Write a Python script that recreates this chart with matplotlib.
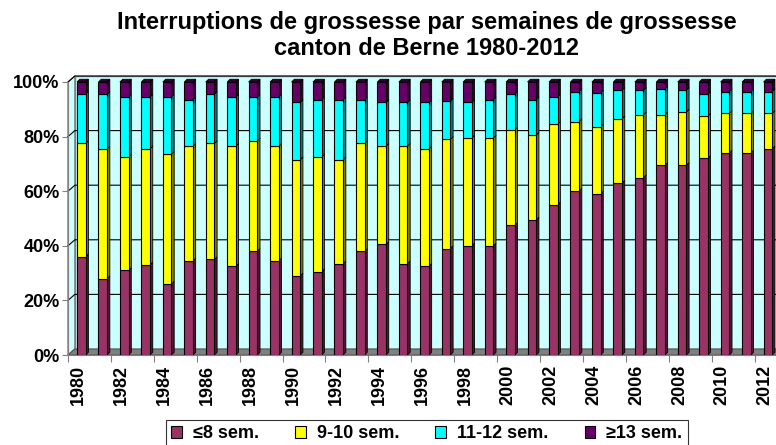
import numpy as np
import matplotlib
matplotlib.use("Agg")
import matplotlib.pyplot as plt
from matplotlib.patches import Polygon, Patch

plt.rcParams['font.family'] = ['Liberation Sans', 'DejaVu Sans']
plt.rcParams['font.weight'] = 'bold'

# Data (percent of interruptions per year)
years = list(range(1980, 2013))
le8 = [36, 28, 31, 33, 26, 34.5, 35, 32.5, 38, 34.5, 29, 30.5, 33.5, 38, 40.5, 33.5,
       32.5, 39, 40, 40, 47.5, 49.5, 55, 60, 59, 63, 65, 69.5, 69.5, 72, 74, 74, 75.5]
w9_10 = [41.5, 47.5, 41.5, 42.5, 47.5, 42, 42.5, 44, 40.5, 42, 42.5, 42, 38, 39.5, 36, 43,
         43, 40, 39.5, 39.5, 35, 31, 29.5, 25.5, 24.5, 23.5, 23, 18.5, 19.5, 15.5, 14.5, 14.5, 13]
w11_12 = [18, 20, 22, 19, 21, 17, 18, 18, 16, 18, 21, 21, 22, 16, 16, 16,
          17, 14, 13, 14, 13, 13, 10, 11, 12.5, 10.5, 9, 9.5, 8, 8, 8, 8, 8]
ge13 = [4.5, 4.5, 5.5, 5.5, 5.5, 6.5, 4.5, 5.5, 5.5, 5.5, 7.5, 6.5, 6.5, 6.5, 7.5, 7.5,
        7.5, 7, 7.5, 6.5, 4.5, 6.5, 5.5, 3.5, 4, 3, 3, 2.5, 3, 4.5, 3.5, 3.5, 3.5]

labels = ["\u22648 sem.", "9-10 sem.", "11-12 sem.", "\u226513 sem."]
colors = ["#993366", "#FFFF00", "#00FFFF", "#660066"]
side_colors = ["#4d1a33", "#808000", "#008080", "#330033"]

fig = plt.figure(figsize=(7.76, 4.45), dpi=100)
ax = fig.add_axes([68 / 776, 90 / 445, 708 / 776, 273 / 445])
ax.set_facecolor("none")

n = len(years)
x = np.arange(n)
xmin, xmax = -0.5, n - 0.5
DX, DY = 0.32, 2.2      # depth of the walls
bdx, bdy = 0.13, 1.0    # depth of the bars
wall = "#CCFFFF"
grey = "#808080"

# back wall, side wall and floor
ax.add_patch(Polygon([(xmin + DX, DY), (xmax + DX, DY), (xmax + DX, 100 + DY), (xmin + DX, 100 + DY)],
                     facecolor=wall, edgecolor=grey, lw=1, clip_on=False, zorder=0))
ax.add_patch(Polygon([(xmin, 0), (xmin, 100), (xmin + DX, 100 + DY), (xmin + DX, DY)],
                     facecolor=wall, edgecolor=grey, lw=1, clip_on=False, zorder=0))
for v in range(20, 101, 20):
    ax.plot([xmin, xmin + DX, xmax + DX], [v, v + DY, v + DY], color="black", lw=0.8,
            clip_on=False, zorder=1)
ax.add_patch(Polygon([(xmin, 0), (xmax, 0), (xmax + DX, DY), (xmin + DX, DY)],
                     facecolor=grey, edgecolor="#555555", lw=0.8, clip_on=False, zorder=1))

# stacked bars with a bit of depth
series = [le8, w9_10, w11_12, ge13]
width = 0.4
xc = x + 0.12
bottom = np.zeros(n)
for vals, col, scol in zip(series, colors, side_colors):
    vals = np.array(vals, dtype=float)
    ax.bar(xc, vals, width, bottom=bottom, color=col, edgecolor="black", lw=0.8, zorder=3)
    for xi, b, h in zip(xc, bottom, vals):
        r = xi + width / 2
        ax.add_patch(Polygon([(r, b), (r + bdx, b + bdy), (r + bdx, b + h + bdy), (r, b + h)],
                             facecolor=scol, edgecolor="black", lw=0.6, clip_on=False, zorder=2))
    bottom += vals
for xi in xc:
    l, r = xi - width / 2, xi + width / 2
    ax.add_patch(Polygon([(l, 100), (r, 100), (r + bdx, 100 + bdy), (l + bdx, 100 + bdy)],
                         facecolor=side_colors[3], edgecolor="black", lw=0.6, clip_on=False, zorder=2))

ax.set_xlim(xmin, xmax)
ax.set_ylim(0, 100)
for s in ["top", "right"]:
    ax.spines[s].set_visible(False)
ax.spines["left"].set_color(grey)
ax.spines["bottom"].set_color(grey)

ax.set_yticks(range(0, 101, 20))
ax.set_yticklabels([f"{v}%" for v in range(0, 101, 20)], fontsize=13, fontweight="bold")
ax.tick_params(axis="y", length=4, color=grey, pad=2)

ax.set_xticks(np.arange(xmin, xmax, 2))
ax.set_xticklabels([])
ax.tick_params(axis="x", which="major", length=5, color=grey)
ax.set_xticks(x[::2], minor=True)
ax.set_xticklabels([str(y) for y in years[::2]], minor=True, rotation=90,
                   fontsize=13, fontweight="bold")
ax.tick_params(axis="x", which="minor", length=0, pad=7)

fig.text(0.55, 0.975, "Interruptions de grossesse par semaines de grossesse\ncanton de Berne 1980-2012",
         ha="center", va="top", fontsize=17, fontweight="bold", linespacing=1.15)

handles = [Patch(facecolor=c, edgecolor="black", lw=0.8) for c in colors]
leg = fig.legend(handles, labels, ncol=4, loc="upper center", bbox_to_anchor=(0.55, 25 / 445),
                 frameon=True, fancybox=False, edgecolor="black", fontsize=13,
                 handlelength=0.6, handleheight=0.6, columnspacing=2.0, handletextpad=0.6,
                 borderpad=0.3, borderaxespad=0)
leg.get_frame().set_linewidth(0.8)
for t in leg.get_texts():
    t.set_fontweight("bold")

fig.savefig("out.png", dpi=100)
